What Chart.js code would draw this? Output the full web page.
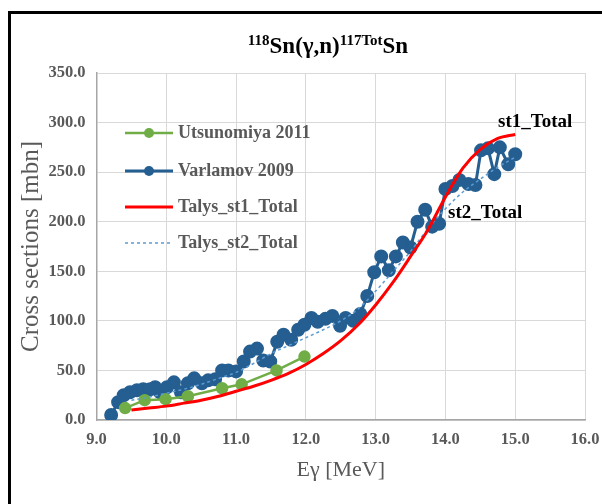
<!DOCTYPE html>
<html>
<head>
<meta charset="utf-8">
<script src="https://cdn.jsdelivr.net/npm/chart.js@4.4.1/dist/chart.umd.min.js"></script>
<style>
  html, body { margin: 0; padding: 0; background: #fff; }
  #wrap { width: 602px; height: 504px; }
</style>
</head>
<body>
<div id="wrap"><canvas id="grafico" width="602" height="504"></canvas></div>
<script>
// datos
var varlamovE = [9.21,9.31,9.39,9.48,9.58,9.67,9.77,9.84,9.91,10.01,10.11,10.21,10.31,10.40,10.51,10.60,10.70,10.80,10.89,11.00,
  11.11,11.20,11.30,11.39,11.49,11.59,11.68,11.79,11.89,11.98,12.08,12.17,12.28,12.38,12.49,12.57,12.68,12.78,12.88,12.98,
  13.08,13.19,13.29,13.39,13.50,13.60,13.71,13.81,13.91,14.00,14.10,14.20,14.33,14.43,14.51,14.61,14.70,14.78,14.90,15.00];
var varlamovSigma = [5,18,25,28,30,31,31,33,28,33,38,28,37,42,37,40,41,50,50,49,
  59,69,72,60,59,79,86,81,91,96,103,99,102,105,95,103,100,107,125,149,
  165,151,165,179,174,200,212,195,198,233,236,242,238,237,272,274,248,275,258,268];

var utsunomiyaE = [9.41,9.69,9.99,10.31,10.80,11.08,11.58,11.98];
var utsunomiyaSigma = [12,20,21,24,32,36,50,64];

var talysE = [9.5,9.75,10,10.25,10.5,10.75,11,11.25,11.5,11.75,12,12.25,12.5,12.75,13,13.25,13.5,13.75,14,14.25,14.5,14.75,15];
var st1Sigma = [10,12,14,17,20,24,29,34,40,47,56,67,80,96,116,139,165,192,225,254,273,284,288];
var st2Sigma = [20,23,27,31,36,42,48,57,67,75,83,91,100,112,130,150,170,193,213,230,243,255,265];

var xTicks = [9,10,11,12,13,14,15,16];

function pares(xs, ys) {
  return xs.map(function(x, i) { return {x: x, y: ys[i]}; });
}

var fuente = '"Liberation Serif", "Times New Roman", serif';
var gris = '#595959';

// titulo con superindices
var titulo = {
  id: 'titulo',
  afterDraw: function(chart) {
    var ctx = chart.ctx;
    var partes = [
      {t: '118', sup: true}, {t: 'Sn(\u03b3,n)', sup: false},
      {t: '117Tot', sup: true}, {t: 'Sn', sup: false}
    ];
    ctx.save();
    ctx.fillStyle = '#000';
    ctx.textBaseline = 'alphabetic';
    var total = 0;
    partes.forEach(function(p) {
      ctx.font = 'bold ' + (p.sup ? 15 : 23) + 'px ' + fuente;
      p.w = ctx.measureText(p.t).width;
      total += p.w;
    });
    var x = 328 - total / 2, y = 53;
    partes.forEach(function(p) {
      ctx.font = 'bold ' + (p.sup ? 15 : 23) + 'px ' + fuente;
      ctx.fillText(p.t, x, p.sup ? y - 8 : y);
      x += p.w;
    });
    ctx.restore();
  }
};

// leyenda dentro del area y etiquetas st1/st2
var leyenda = {
  id: 'leyenda',
  afterDraw: function(chart) {
    var ctx = chart.ctx;
    var filas = [133, 171, 207, 243];
    ctx.save();
    chart.data.datasets.forEach(function(ds, i) {
      var y = filas[i];
      ctx.beginPath();
      ctx.strokeStyle = ds.borderColor;
      ctx.lineWidth = ds.borderWidth;
      ctx.setLineDash(ds.borderDash || []);
      ctx.moveTo(125, y);
      ctx.lineTo(173, y);
      ctx.stroke();
      ctx.setLineDash([]);
      if (ds.pointRadius > 0) {
        ctx.beginPath();
        ctx.fillStyle = ds.borderColor;
        ctx.arc(149, y, 5, 0, Math.PI * 2);
        ctx.fill();
      }
      ctx.fillStyle = gris;
      ctx.font = 'bold 18px ' + fuente;
      ctx.textBaseline = 'middle';
      ctx.fillText(ds.label, 178, y);
    });
    ctx.fillStyle = '#000';
    ctx.font = 'bold 19px ' + fuente;
    ctx.textBaseline = 'middle';
    ctx.fillText('st1_Total', 498, 122);
    ctx.fillText('st2_Total', 448, 213);
    ctx.restore();
  }
};

// marco negro exterior
var marco = {
  id: 'marco',
  afterDraw: function(chart) {
    var ctx = chart.ctx;
    ctx.save();
    ctx.strokeStyle = '#000';
    ctx.lineWidth = 3;
    ctx.beginPath();
    ctx.moveTo(9.5, 520);
    ctx.lineTo(9.5, 12.5);
    ctx.lineTo(620, 12.5);
    ctx.stroke();
    ctx.restore();
  }
};

var bgColor = {
  id: 'bgColor',
  beforeDraw: function(chart) {
    var ctx = chart.ctx;
    ctx.save();
    ctx.fillStyle = '#fff';
    ctx.fillRect(0, 0, chart.width, chart.height);
    ctx.restore();
  }
};

var grafico = document.getElementById('grafico');
var Chartgrafico = new Chart(grafico, {
  type: 'line',
  data: {
    datasets: [{
      label: 'Utsunomiya 2011',
      data: pares(utsunomiyaE, utsunomiyaSigma),
      borderColor: '#70AD47',
      backgroundColor: '#70AD47',
      borderWidth: 2.5,
      pointRadius: 5,
      pointHoverRadius: 5,
      order: 3
    }, {
      label: 'Varlamov 2009',
      data: pares(varlamovE, varlamovSigma),
      borderColor: '#255E91',
      backgroundColor: '#255E91',
      borderWidth: 3,
      pointRadius: 5.5,
      pointHoverRadius: 5.5,
      order: 4
    }, {
      label: 'Talys_st1_Total',
      data: pares(talysE, st1Sigma),
      borderColor: '#FF0000',
      borderWidth: 3,
      pointRadius: 0,
      cubicInterpolationMode: 'monotone',
      order: 1
    }, {
      label: 'Talys_st2_Total',
      data: pares(talysE, st2Sigma),
      borderColor: '#5B9BD5',
      borderWidth: 1.5,
      borderDash: [3, 3],
      pointRadius: 0,
      cubicInterpolationMode: 'monotone',
      order: 2
    }]
  },
  options: {
    responsive: false,
    animation: false,
    layout: { padding: { top: 73, right: 17, left: 16, bottom: 0 } },
    plugins: { legend: { display: false }, title: { display: false }, tooltip: { enabled: false } },
    scales: {
      x: {
        type: 'linear',
        min: 9, max: 16,
        afterBuildTicks: function(scale) { scale.ticks = xTicks.map(function(v) { return {value: v}; }); },
        afterFit: function(scale) {
          scale.height = 84;
          scale.paddingLeft = 0;
          scale.paddingRight = 0;
        },
        grid: { color: '#D9D9D9', lineWidth: 1, drawTicks: false },
        border: { color: '#A6A6A6', width: 1.5 },
        ticks: {
          padding: 10,
          color: gris,
          font: { family: fuente, size: 16.5, weight: 'bold' },
          callback: function(v) { return v.toFixed(1); }
        },
        title: {
          display: true, text: 'E\u03b3 [MeV]', color: gris,
          font: { family: fuente, size: 22 }, padding: { top: 0, bottom: 21 }
        }
      },
      y: {
        min: 0, max: 350,
        afterFit: function(scale) {
          scale.width = 80.5;
          scale.paddingTop = 0;
          scale.paddingBottom = 0;
        },
        grid: { color: '#D9D9D9', lineWidth: 1, drawTicks: false },
        border: { color: '#A6A6A6', width: 1.5 },
        ticks: {
          stepSize: 50,
          padding: 11,
          color: gris,
          font: { family: fuente, size: 16.5, weight: 'bold' },
          callback: function(v) { return v.toFixed(1); }
        },
        title: {
          display: true, text: 'Cross sections [mbn]', color: gris,
          font: { family: fuente, size: 25 }, padding: { top: 0, bottom: 0 }
        }
      }
    }
  },
  plugins: [bgColor, titulo, leyenda, marco]
});
</script>
</body>
</html>
